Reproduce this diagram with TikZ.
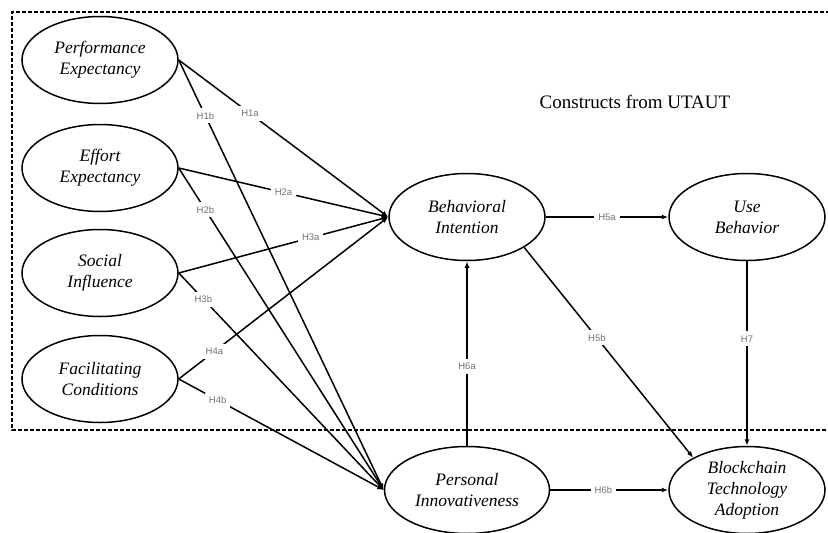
\documentclass[tikz,border=0pt]{standalone}
\usepackage{fontspec}
\setmainfont{Liberation Serif}
\newfontfamily\labfont{Liberation Sans}
\usetikzlibrary{shapes.geometric,arrows.meta}
\begin{document}
\begin{tikzpicture}[x=1pt,y=-1pt,
  construct/.style={ellipse,draw,line width=1.5pt,minimum width=156pt,minimum height=87pt,inner sep=0pt,align=center,font=\fontsize{17.5}{21}\selectfont\itshape},
  hpath/.style={line width=1.5pt,-{Latex[length=6.5pt,width=5pt]}},
  hyp/.style={fill=white,inner sep=4pt,font=\labfont\fontsize{9.5}{10}\selectfont,text=black!55},
  frame/.style={line width=1.2pt,dash pattern=on 4pt off 2pt},
  title/.style={font=\fontsize{19}{22}\selectfont}
]
\useasboundingbox (0,0) rectangle (828,533);
\draw[frame] (830,12) -- (12,12) -- (12,430) -- (830,430);
\node[title] (t) at (635,102) {Constructs from UTAUT};

\node[construct] (PE) at (100,60) {Performance\\Expectancy};
\node[construct] (EE) at (100,168) {Effort\\Expectancy};
\node[construct] (SI) at (100,273) {Social\\Influence};
\node[construct] (FC) at (100,379) {Facilitating\\Conditions};
\node[construct] (BI) at (467,217) {Behavioral\\Intention};
\node[construct] (UB) at (747,217) {Use\\Behavior};
\node[construct,minimum width=165pt] (PI) at (467,490) {Personal\\Innovativeness};
\node[construct] (BTA) at (747,490) {Blockchain\\Technology\\Adoption};

\draw[hpath] (PE.east) -- node[hyp,pos=0.34]{H1a} (BI.west);
\draw[hpath] (PE.east) -- node[hyp,pos=0.13]{H1b} (PI.west);
\draw[hpath] (EE.east) -- node[hyp,pos=0.5]{H2a} (BI.west);
\draw[hpath] (EE.east) -- node[hyp,pos=0.13]{H2b} (PI.west);
\draw[hpath] (SI.east) -- node[hyp,pos=0.63]{H3a} (BI.west);
\draw[hpath] (SI.east) -- node[hyp,pos=0.12]{H3b} (PI.west);
\draw[hpath] (FC.east) -- node[hyp,pos=0.17]{H4a} (BI.west);
\draw[hpath] (FC.east) -- node[hyp,pos=0.19]{H4b} (PI.west);
\draw[hpath] (BI.east) -- node[hyp,pos=0.5]{H5a} (UB.west);
\draw[hpath] (BI.-28) -- node[hyp,pos=0.43]{H5b} (BTA.149);
\draw[hpath] (PI.north) -- node[hyp,pos=0.43]{H6a} (BI.south);
\draw[hpath] (PI.east) -- node[hyp,pos=0.45]{H6b} (BTA.west);
\draw[hpath] (UB.south) -- node[hyp,pos=0.42]{H7} (BTA.north);
\end{tikzpicture}
\end{document}
